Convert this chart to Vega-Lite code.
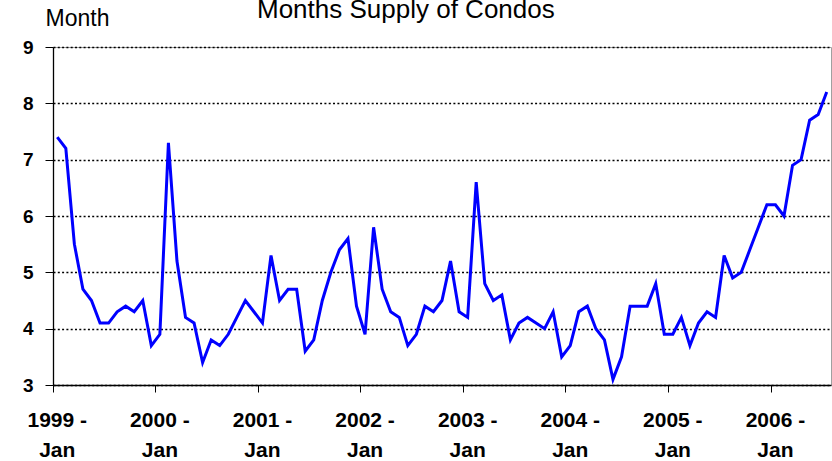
{
  "$schema": "https://vega.github.io/schema/vega-lite/v6.json",
  "width": 778,
  "height": 338,
  "autosize": {"type": "none"},
  "padding": {"left": 53, "top": 47, "right": 1, "bottom": 76},
  "background": "white",
  "title": {"text": "Months Supply of Condos", "anchor": "start", "frame": "group", "dx": 204, "dy": 37, "offset": 0, "fontSize": 26, "fontWeight": "normal", "font": "Liberation Sans", "color": "black", "baseline": "alphabetic"},
  "data": {"values": [
    {"month": "1999-01", "value": 7.4}, {"month": "1999-02", "value": 7.2}, {"month": "1999-03", "value": 5.5}, {"month": "1999-04", "value": 4.7},
    {"month": "1999-05", "value": 4.5}, {"month": "1999-06", "value": 4.1}, {"month": "1999-07", "value": 4.1}, {"month": "1999-08", "value": 4.3},
    {"month": "1999-09", "value": 4.4}, {"month": "1999-10", "value": 4.3}, {"month": "1999-11", "value": 4.5}, {"month": "1999-12", "value": 3.7},
    {"month": "2000-01", "value": 3.9}, {"month": "2000-02", "value": 7.3}, {"month": "2000-03", "value": 5.2}, {"month": "2000-04", "value": 4.2},
    {"month": "2000-05", "value": 4.1}, {"month": "2000-06", "value": 3.4}, {"month": "2000-07", "value": 3.8}, {"month": "2000-08", "value": 3.7},
    {"month": "2000-09", "value": 3.9}, {"month": "2000-10", "value": 4.2}, {"month": "2000-11", "value": 4.5}, {"month": "2000-12", "value": 4.3},
    {"month": "2001-01", "value": 4.1}, {"month": "2001-02", "value": 5.3}, {"month": "2001-03", "value": 4.5}, {"month": "2001-04", "value": 4.7},
    {"month": "2001-05", "value": 4.7}, {"month": "2001-06", "value": 3.6}, {"month": "2001-07", "value": 3.8}, {"month": "2001-08", "value": 4.5},
    {"month": "2001-09", "value": 5.0}, {"month": "2001-10", "value": 5.4}, {"month": "2001-11", "value": 5.6}, {"month": "2001-12", "value": 4.4},
    {"month": "2002-01", "value": 3.9}, {"month": "2002-02", "value": 5.8}, {"month": "2002-03", "value": 4.7}, {"month": "2002-04", "value": 4.3},
    {"month": "2002-05", "value": 4.2}, {"month": "2002-06", "value": 3.7}, {"month": "2002-07", "value": 3.9}, {"month": "2002-08", "value": 4.4},
    {"month": "2002-09", "value": 4.3}, {"month": "2002-10", "value": 4.5}, {"month": "2002-11", "value": 5.2}, {"month": "2002-12", "value": 4.3},
    {"month": "2003-01", "value": 4.2}, {"month": "2003-02", "value": 6.6}, {"month": "2003-03", "value": 4.8}, {"month": "2003-04", "value": 4.5},
    {"month": "2003-05", "value": 4.6}, {"month": "2003-06", "value": 3.8}, {"month": "2003-07", "value": 4.1}, {"month": "2003-08", "value": 4.2},
    {"month": "2003-09", "value": 4.1}, {"month": "2003-10", "value": 4.0}, {"month": "2003-11", "value": 4.3}, {"month": "2003-12", "value": 3.5},
    {"month": "2004-01", "value": 3.7}, {"month": "2004-02", "value": 4.3}, {"month": "2004-03", "value": 4.4}, {"month": "2004-04", "value": 4.0},
    {"month": "2004-05", "value": 3.8}, {"month": "2004-06", "value": 3.1}, {"month": "2004-07", "value": 3.5}, {"month": "2004-08", "value": 4.4},
    {"month": "2004-09", "value": 4.4}, {"month": "2004-10", "value": 4.4}, {"month": "2004-11", "value": 4.8}, {"month": "2004-12", "value": 3.9},
    {"month": "2005-01", "value": 3.9}, {"month": "2005-02", "value": 4.2}, {"month": "2005-03", "value": 3.7}, {"month": "2005-04", "value": 4.1},
    {"month": "2005-05", "value": 4.3}, {"month": "2005-06", "value": 4.2}, {"month": "2005-07", "value": 5.3}, {"month": "2005-08", "value": 4.9},
    {"month": "2005-09", "value": 5.0}, {"month": "2005-10", "value": 5.4}, {"month": "2005-11", "value": 5.8}, {"month": "2005-12", "value": 6.2},
    {"month": "2006-01", "value": 6.2}, {"month": "2006-02", "value": 6.0}, {"month": "2006-03", "value": 6.9}, {"month": "2006-04", "value": 7.0},
    {"month": "2006-05", "value": 7.7}, {"month": "2006-06", "value": 7.8}, {"month": "2006-07", "value": 8.2}
  ]},
  "mark": {"type": "line", "color": "#0000ff", "strokeWidth": 3},
  "encoding": {
    "x": {
      "field": "month", "type": "ordinal", "sort": null,
      "scale": {"type": "band", "paddingInner": 0, "paddingOuter": 0},
      "axis": {
        "title": null,
        "values": ["1999-01", "2000-01", "2001-01", "2002-01", "2003-01", "2004-01", "2005-01", "2006-01"],
        "labelExpr": "[slice(datum.value, 0, 4) + ' -', 'Jan']",
        "labelAngle": 0, "labelFontSize": 21, "labelFontWeight": "bold", "labelColor": "black",
        "labelLineHeight": 30, "labelPadding": 17, "labelFlush": false, "labelOverlap": false,
        "tickSize": 7, "tickColor": "black", "tickWidth": 1,
        "domainColor": "black", "domainWidth": 1.3, "grid": false,
        "bandPosition": 0, "labelOffset": 0
      }
    },
    "y": {
      "field": "value", "type": "quantitative",
      "scale": {"domain": [3, 9], "nice": false, "zero": false},
      "axis": {
        "title": "Month", "titleAngle": 0, "titleAlign": "left", "titleBaseline": "alphabetic",
        "titleX": -8, "titleY": -22, "titleFontSize": 23, "titleFontWeight": "normal", "titleColor": "black",
        "values": [3, 4, 5, 6, 7, 8, 9],
        "labelFontSize": 19, "labelFontWeight": "bold", "labelColor": "black", "labelPadding": 12, "labelFlush": false,
        "tickSize": 8, "tickColor": "black", "tickWidth": 1,
        "domainColor": "black", "domainWidth": 1.3,
        "grid": true, "gridColor": "black", "gridDash": [2, 2.3], "gridWidth": 1.5
      }
    }
  },
  "config": {"view": {"stroke": "#a0a0a0", "strokeWidth": 1}, "font": "Liberation Sans"}
}
